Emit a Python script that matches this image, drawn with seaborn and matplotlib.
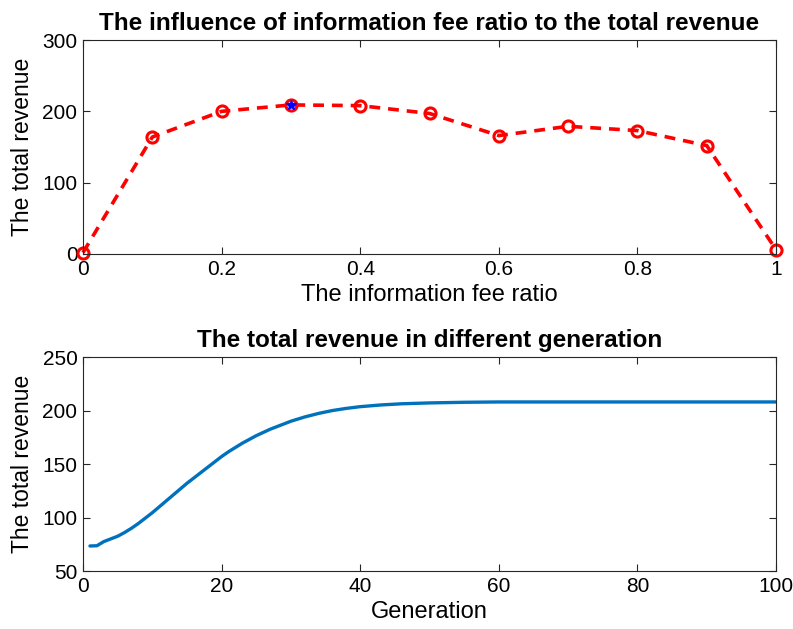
import matplotlib
matplotlib.use("Agg")
import matplotlib.pyplot as plt
import seaborn as sns
import pandas as pd

# Top chart data
fee_ratio = [0.0, 0.1, 0.2, 0.3, 0.4, 0.5, 0.6, 0.7, 0.8, 0.9, 1.0]
revenue_by_ratio = [2, 164, 200, 209, 208, 197, 166, 179, 173, 152, 6]
best_ratio = [0.3]
best_revenue = [209]

# Bottom chart data
generation = [1, 2, 3, 4, 5, 6, 7, 8, 9, 10, 11, 12, 13, 14, 15, 16, 17, 18, 19, 20,
              21, 22, 23, 24, 25, 26, 27, 28, 29, 30, 32, 34, 36, 38, 40, 43, 46, 50,
              55, 60, 70, 80, 90, 100]
revenue_by_gen = [73.4, 73.6, 77.5, 80, 82.5, 86, 90, 94.5, 99.5, 104.5, 110, 115.5,
                  121, 126.5, 132, 137, 142, 147, 152, 157, 161.5, 165.5, 169.5, 173,
                  176.5, 179.5, 182.5, 185, 187.5, 190, 194, 197.3, 200, 202, 203.6,
                  205.2, 206.3, 207.1, 207.7, 208, 208, 208, 208, 208]

sns.set_style("ticks")
plt.rcParams['font.family'] = ['Liberation Sans', 'DejaVu Sans']
plt.rcParams['axes.edgecolor'] = '#262626'
plt.rcParams['axes.linewidth'] = 0.8
plt.rcParams['text.color'] = 'black'
plt.rcParams['axes.labelcolor'] = 'black'

fig = plt.figure(figsize=(7.93, 6.29), dpi=100)
ax1 = fig.add_axes([0.1047, 0.5962, 0.8739, 0.3402])
ax2 = fig.add_axes([0.1047, 0.0922, 0.8739, 0.3402])

df1 = pd.DataFrame({"ratio": fee_ratio, "rev": revenue_by_ratio})
sns.lineplot(data=df1, x="ratio", y="rev", ax=ax1, color="red", linewidth=2.6,
             linestyle=(0, (3, 2.2)), marker="o", markersize=8,
             markerfacecolor="none", markeredgecolor="red", markeredgewidth=2.2,
             clip_on=False)
ax1.plot(best_ratio, best_revenue, marker="*", color="blue", markersize=7,
         linestyle="none")
ax1.set_xlim(0, 1)
ax1.set_ylim(0, 300)
ax1.set_xticks([0, 0.2, 0.4, 0.6, 0.8, 1])
ax1.set_xticklabels(["0", "0.2", "0.4", "0.6", "0.8", "1"])
ax1.set_yticks([0, 100, 200, 300])
ax1.set_title("The influence of information fee ratio to the total revenue",
              fontsize=17.5, fontweight="bold", pad=7, color="black")
ax1.set_xlabel("The information fee ratio", fontsize=17, labelpad=4)
ax1.set_ylabel("The total revenue", fontsize=16.5, labelpad=6)

df2 = pd.DataFrame({"gen": generation, "rev": revenue_by_gen})
sns.lineplot(data=df2, x="gen", y="rev", ax=ax2, color="#0072BD", linewidth=2.4)
ax2.set_xlim(0, 100)
ax2.set_ylim(50, 250)
ax2.set_xticks([0, 20, 40, 60, 80, 100])
ax2.set_yticks([50, 100, 150, 200, 250])
ax2.set_title("The total revenue in different generation",
              fontsize=17.5, fontweight="bold", pad=7, color="black")
ax2.set_xlabel("Generation", fontsize=17, labelpad=4)
ax2.set_ylabel("The total revenue", fontsize=16.5, labelpad=6)

for ax in (ax1, ax2):
    for s in ax.spines.values():
        s.set_visible(True)
        s.set_color('#262626')
    ax.tick_params(direction="in", top=True, right=True, length=5, width=0.8,
                   labelsize=15, colors='#262626', labelcolor='black', pad=4)
    ax.grid(False)

fig.savefig("out.png", dpi=100)
